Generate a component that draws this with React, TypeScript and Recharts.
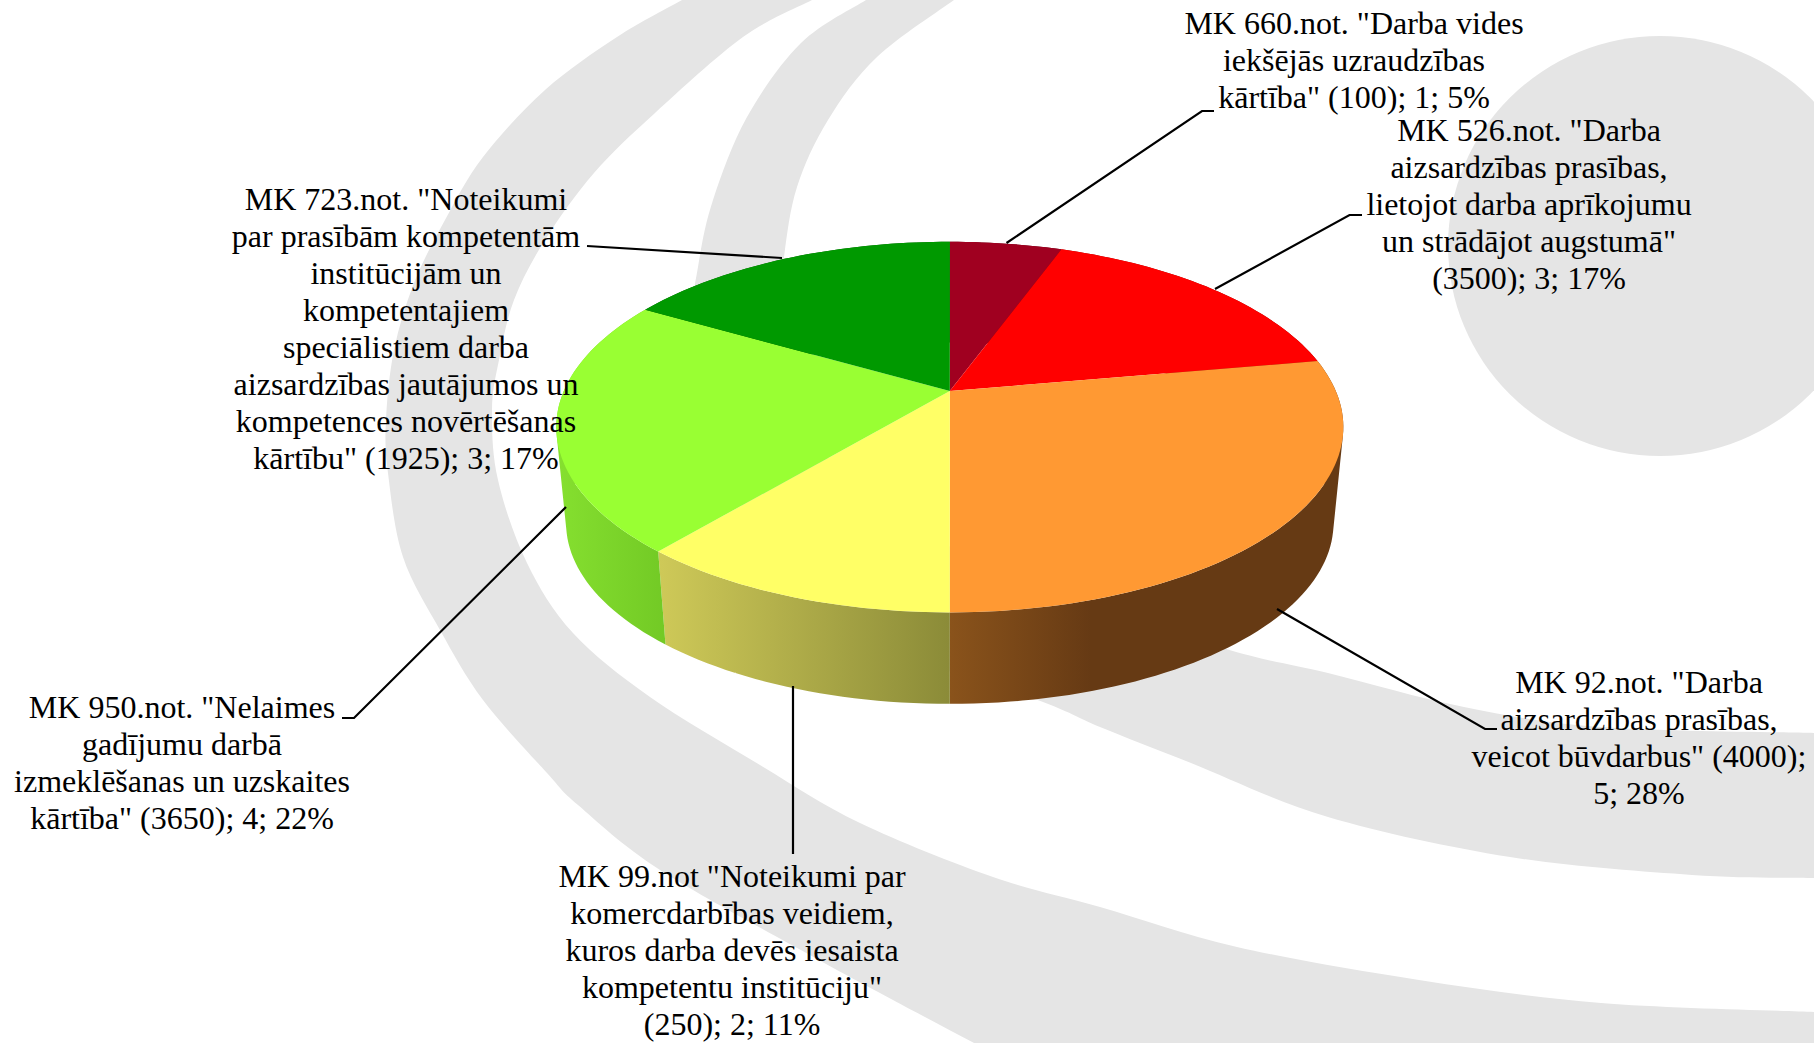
import React from "react";
import { PieChart, Pie } from "recharts";

// ---- data ----
const regulations = ["MK 660", "MK 526", "MK 92", "MK 99", "MK 950", "MK 723"];
const counts = [1, 3, 5, 2, 4, 3];
const labelLines = [
  ['MK 660.not. "Darba vides', "iekšējās uzraudzības", 'kārtība" (100); 1; 5%'],
  ['MK 526.not. "Darba', "aizsardzības prasības,", "lietojot darba aprīkojumu", 'un strādājot augstumā"', "(3500); 3; 17%"],
  ['MK 92.not. "Darba', "aizsardzības prasības,", 'veicot būvdarbus" (4000);', "5; 28%"],
  ['MK 99.not "Noteikumi par', "komercdarbības veidiem,", "kuros darba devēs iesaista", 'kompetentu institūciju"', "(250); 2; 11%"],
  ['MK 950.not. "Nelaimes', "gadījumu darbā", "izmeklēšanas un uzskaites", 'kārtība" (3650); 4; 22%'],
  ['MK 723.not. "Noteikumi', "par prasībām kompetentām", "institūcijām un", "kompetentajiem", "speciālistiem darba", "aizsardzības jautājumos un", "kompetences novērtēšanas", 'kārtību" (1925); 3; 17%'],
];
const chartData = regulations.map((name, i) => ({ name, value: counts[i] }));

// ---- styling and layout ----
const topColors = ["#A00020", "#FF0000", "#FF9933", "#FFFF66", "#99FF33", "#009900"];
const wallFills = ["#660014", "#990000", "url(#wallOrange)", "url(#wallYellow)", "url(#wallLime)", "#005c00"];
const labelCenterX = [1354, 1529, 1639, 732, 182, 406];
const labelFirstBaseline = [34, 141, 693, 887, 718, 210];
const leaderPaths = [
  "M1006.5 243 L1202 111 L1214 111",
  "M1215 289 L1349.5 215 L1362 215",
  "M1277 609 L1485 729 L1497 729",
  "M793 686 L793 854",
  "M566 507 L354 718 L342 718",
  "M782 258 L587 246",
];
const LINE_HEIGHT = 37;
const FONT_SIZE = 32;
const W = 1814;
const H = 1043;
const CX = 949.8;
const CY = 391;
const R = 386;
const VSCALE = 178.3;
const PERSP = 0.1947;
const DEPTH = 97;
const BOTTOM_SCALE = 0.975;

const project = (mathAngle: number, scale = 1, dy = 0): [number, number] => {
  const t = ((90 - mathAngle) * Math.PI) / 180;
  const w = 1 + PERSP * Math.cos(t);
  return [CX + (scale * R * Math.sin(t)) / w, CY + dy - (scale * VSCALE * Math.cos(t)) / w];
};
const samples = (from: number, to: number) => {
  const n = Math.max(2, Math.ceil(Math.abs(to - from) / 1.5));
  return Array.from({ length: n + 1 }, (_, i) => from + ((to - from) * i) / n);
};

const TopFace = (p: any) => {
  const pts = samples(p.startAngle, p.endAngle).map((a) => project(a).map((v) => v.toFixed(2)).join(" "));
  return <path d={`M${p.cx} ${p.cy} L${pts.join(" L")} Z`} fill={topColors[p.index]} stroke="none" />;
};
// The side wall is swept as one quad per step, all wound the same way, so the
// silhouette between the top and bottom rims stays filled at the pie's extremes.
const Wall = (p: any) => {
  const angles = samples(p.startAngle, p.endAngle);
  let d = "";
  for (let i = 0; i < angles.length - 1; i++) {
    let q = [
      project(angles[i]),
      project(angles[i + 1]),
      project(angles[i + 1], BOTTOM_SCALE, DEPTH),
      project(angles[i], BOTTOM_SCALE, DEPTH),
    ];
    let area = 0;
    q.forEach((a, j) => {
      const b = q[(j + 1) % 4];
      area += a[0] * b[1] - b[0] * a[1];
    });
    if (area < 0) q = q.reverse();
    d += `M${q.map((c) => `${c[0].toFixed(2)} ${c[1].toFixed(2)}`).join(" L")} Z `;
  }
  return <path d={d} fill={wallFills[p.index]} stroke="none" />;
};
const SliceLabel = (p: any) => (
  <text x={labelCenterX[p.index]} textAnchor="middle" fontFamily="'Liberation Serif', serif" fontSize={FONT_SIZE} fill="#000" stroke="none">
    {labelLines[p.index].map((line, i) => (
      <tspan key={i} x={labelCenterX[p.index]} y={labelFirstBaseline[p.index] + i * LINE_HEIGHT}>{line}</tspan>
    ))}
  </text>
);
const Leader = (p: any) => <path d={leaderPaths[p.index]} fill="none" stroke="#000" strokeWidth={2.2} />;

// background swooshes, traced through control points
const bandAOuter = [
  [682, 0], [617, 37], [545, 90], [483, 157], [445, 220], [414, 283], [394, 350], [386, 420], [388, 473], [403, 557], [440, 630], [483, 700], [547, 773], [578, 805], [660, 870], [810, 955], [893, 1000], [1010, 1062],
];
const bandAInner = [
  [1814, 1012], [1601, 1003], [1419, 980], [1237, 947], [1100, 907], [993, 877], [860, 823], [760, 765], [650, 697], [573, 633], [527, 563], [498, 480], [492, 410], [499, 360], [514, 300], [545, 240], [594, 173], [655, 113], [743, 37], [812, 0],
];
const bandBOuter = [
  [866, 0], [801, 43], [747, 117], [713, 200], [698, 267], [690, 340], [710, 440], [780, 560], [900, 650], [1043, 702], [1100, 727], [1191, 763], [1328, 817], [1510, 857], [1692, 875], [1814, 878],
];
const bandBInner = [
  [1814, 733], [1601, 727], [1464, 707], [1328, 673], [1223, 648], [1060, 590], [900, 520], [800, 420], [780, 310], [784, 257], [797, 187], [828, 120], [877, 57], [954, 0],
];
const smooth = (pts: number[][]) => {
  let d = "";
  for (let i = 0; i < pts.length - 1; i++) {
    const p0 = pts[Math.max(0, i - 1)], p1 = pts[i], p2 = pts[i + 1], p3 = pts[Math.min(pts.length - 1, i + 2)];
    d += ` C${p1[0] + (p2[0] - p0[0]) / 6} ${p1[1] + (p2[1] - p0[1]) / 6} ${p2[0] - (p3[0] - p1[0]) / 6} ${p2[1] - (p3[1] - p1[1]) / 6} ${p2[0]} ${p2[1]}`;
  }
  return d;
};
const Background = () => (
  <svg width={W} height={H} style={{ position: "absolute", left: 0, top: 0 }}>
    <ellipse cx={1660} cy={246} rx={212} ry={210} fill="#E5E5E5" />
    <path d={`M682 0${smooth(bandAOuter)} L1814 1062 L1814 1012${smooth(bandAInner)} Z`} fill="#E5E5E5" />
    <path d={`M866 0${smooth(bandBOuter)} L1814 733${smooth(bandBInner)} Z`} fill="#E5E5E5" />
  </svg>
);

export default function App() {
  return (
    <div style={{ position: "absolute", left: 0, top: 0, width: W, height: H, overflow: "hidden", background: "#fff" }}>
      <Background />
      <div style={{ position: "absolute", left: 0, top: 0 }}>
        <PieChart width={W} height={H} margin={{ top: 0, right: 0, bottom: 0, left: 0 }}>
          <defs>
            <linearGradient id="wallOrange" gradientUnits="userSpaceOnUse" x1={950} y1={0} x2={1343} y2={0}>
              <stop offset="0" stopColor="#8A531B" />
              <stop offset="0.36" stopColor="#663A14" />
              <stop offset="1" stopColor="#663A14" />
            </linearGradient>
            <linearGradient id="wallYellow" gradientUnits="userSpaceOnUse" x1={660} y1={0} x2={950} y2={0}>
              <stop offset="0" stopColor="#CEC958" />
              <stop offset="1" stopColor="#8B8B38" />
            </linearGradient>
            <linearGradient id="wallLime" gradientUnits="userSpaceOnUse" x1={560} y1={0} x2={668} y2={0}>
              <stop offset="0" stopColor="#85DF2F" />
              <stop offset="1" stopColor="#72C925" />
            </linearGradient>
          </defs>
          <Pie data={chartData} dataKey="value" nameKey="name" cx={CX} cy={CY} outerRadius={R} startAngle={90} endAngle={-270}
            isAnimationActive={false} stroke="none" shape={Wall} label={false} labelLine={false} />
          <Pie data={chartData} dataKey="value" nameKey="name" cx={CX} cy={CY} outerRadius={R} startAngle={90} endAngle={-270}
            isAnimationActive={false} stroke="none" shape={TopFace} label={SliceLabel} labelLine={Leader} />
        </PieChart>
      </div>
    </div>
  );
}
